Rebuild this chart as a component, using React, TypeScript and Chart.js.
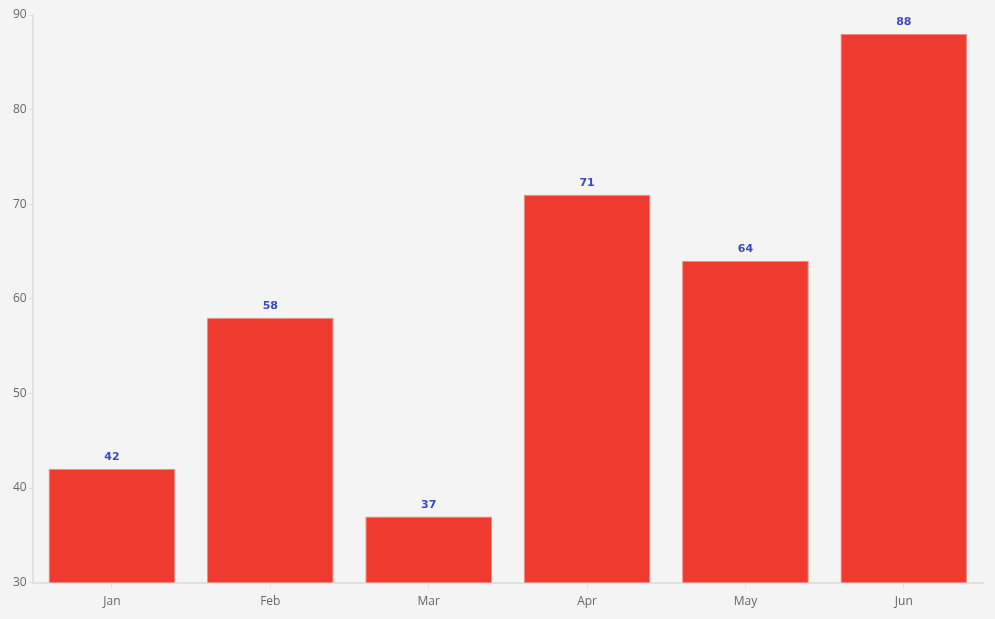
import { useEffect, useRef } from 'react'
import { Chart, registerables, Plugin } from 'chart.js'

Chart.register(...registerables)

const months = ['Jan', 'Feb', 'Mar', 'Apr', 'May', 'Jun']
const values = [42, 58, 37, 71, 64, 88]
const yTicks = [30, 40, 50, 60, 70, 80, 90]

const tickFont = { family: '"Open Sans", "Noto Sans", sans-serif', size: 12 }

// value labels drawn above each bar
const valueLabels: Plugin<'bar'> = {
  id: 'valueLabels',
  afterDatasetsDraw(chart) {
    const { ctx } = chart
    const meta = chart.getDatasetMeta(0)
    ctx.save()
    ctx.font = 'bold 11px "DejaVu Sans", sans-serif'
    ctx.fillStyle = '#3a4ab8'
    ctx.textAlign = 'center'
    ctx.textBaseline = 'bottom'
    meta.data.forEach((bar, i) => {
      ctx.fillText(String(values[i]), bar.x, bar.y - 6)
    })
    ctx.restore()
  },
}

export default function App() {
  const canvasRef = useRef<HTMLCanvasElement>(null)

  useEffect(() => {
    document.body.style.margin = '0'
    document.body.style.background = '#f4f4f4'
    if (!canvasRef.current) return
    const chart = new Chart(canvasRef.current, {
      type: 'bar',
      data: {
        labels: months,
        datasets: [{
          data: values,
          backgroundColor: '#ee3a2f',
          borderColor: '#f08a82',
          borderWidth: 1,
          barPercentage: 0.8,
          categoryPercentage: 1,
        }],
      },
      options: {
        responsive: true,
        maintainAspectRatio: false,
        animation: false,
        layout: { padding: { top: 15, right: 12, left: 11, bottom: 3 } },
        plugins: {
          legend: { display: false },
          tooltip: { enabled: false },
        },
        scales: {
          x: {
            grid: { display: true, offset: false, drawOnChartArea: false, tickLength: 5, color: '#dcdcdc' },
            border: { color: '#e0e0e0', width: 2 },
            ticks: { color: '#666', font: tickFont, padding: 7 },
          },
          y: {
            min: yTicks[0],
            max: yTicks[yTicks.length - 1],
            afterBuildTicks: axis => { axis.ticks = yTicks.map(v => ({ value: v })) },
            grid: { display: true, drawOnChartArea: false, tickLength: 4, color: '#dcdcdc' },
            border: { color: '#e0e0e0', width: 2 },
            ticks: { color: '#666', font: tickFont, padding: 2 },
          },
        },
      },
      plugins: [valueLabels],
    })
    return () => { chart.destroy() }
  }, [])

  return (
    <div style={{ position: 'relative', width: 995, height: 619, background: '#f4f4f4' }}>
      <canvas ref={canvasRef} />
    </div>
  )
}
